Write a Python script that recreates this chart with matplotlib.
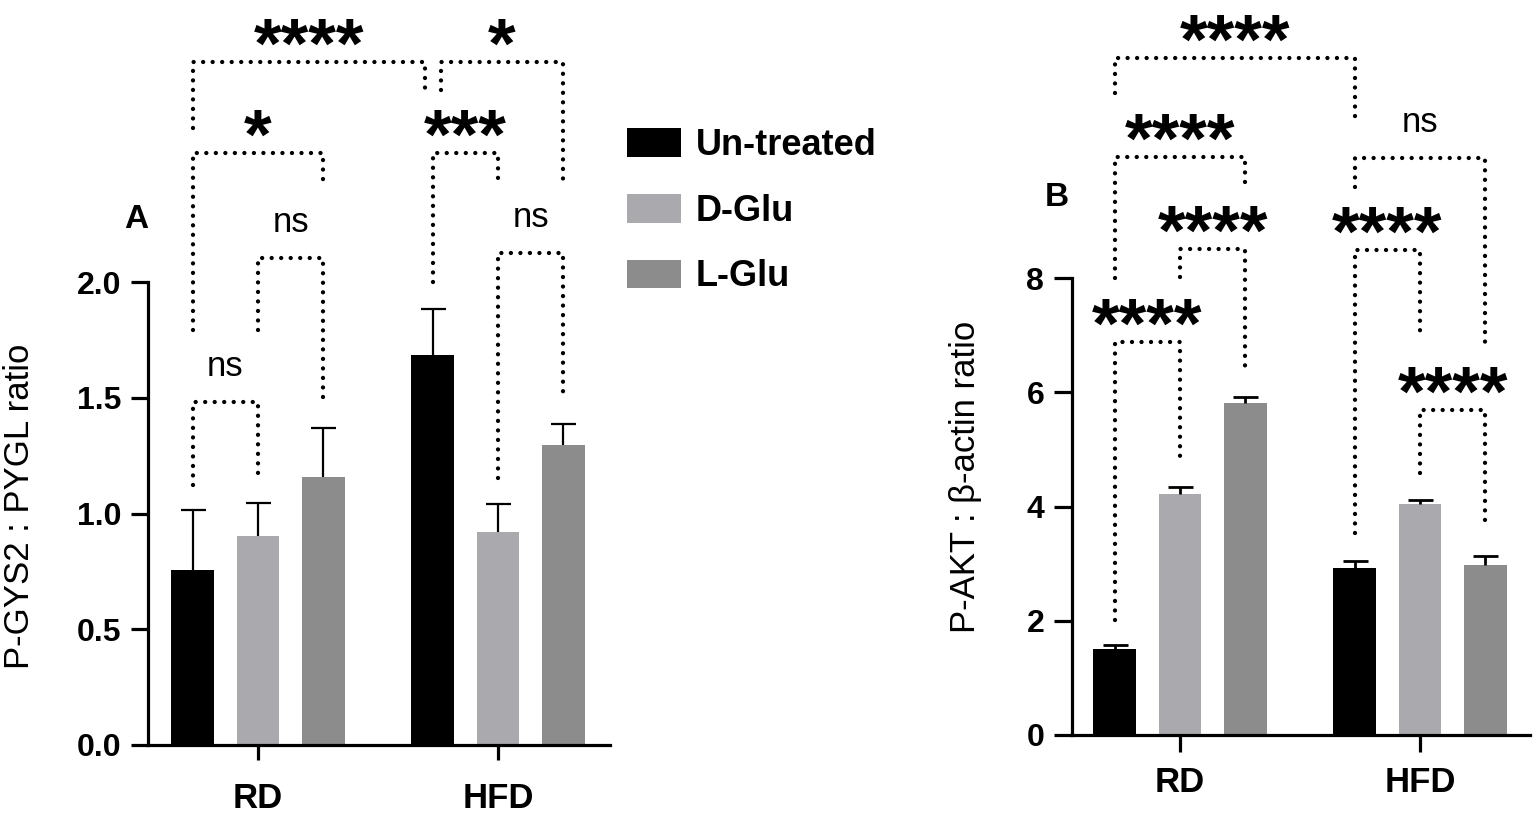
import numpy as np
import matplotlib.pyplot as plt

plt.rcParams['font.family'] = ['Liberation Sans', 'DejaVu Sans']

groups = ['RD', 'HFD']
treatments = ['Un-treated', 'D-Glu', 'L-Glu']
colors = ['#000000', '#aaaaae', '#8c8c8c']

# Panel A: P-GYS2 : PYGL ratio, one row per treatment, one column per group
gys_mean = [[0.756, 1.685], [0.904, 0.921], [1.158, 1.296]]
gys_sem = [[0.26, 0.20], [0.14, 0.12], [0.21, 0.09]]

# Panel B: P-AKT : beta-actin ratio
akt_mean = [[1.50, 2.92], [4.22, 4.05], [5.81, 2.98]]
akt_sem = [[0.07, 0.13], [0.12, 0.07], [0.11, 0.15]]

# significance brackets: ends as (group, treatment), bracket top, leg ends, label
gys_pairs = [((0, 0), (0, 1)), ((0, 1), (0, 2)), ((0, 0), (0, 2)), ((0, 0), (1, 0)),
             ((1, 0), (1, 2)), ((1, 0), (1, 1)), ((1, 1), (1, 2))]
gys_tops = [1.482, 2.104, 2.557, 2.950, 2.950, 2.557, 2.125]
gys_left_ends = [1.123, 1.793, 1.793, 2.665, 2.829, 2.000, 1.153]
gys_right_ends = [1.166, 1.482, 2.432, 2.829, 2.432, 2.432, 1.503]
gys_labels = ['ns', 'ns', '*', '****', '*', '***', 'ns']

akt_pairs = [((0, 0), (0, 1)), ((0, 1), (0, 2)), ((0, 0), (0, 2)), ((0, 0), (1, 0)),
             ((1, 0), (1, 2)), ((1, 0), (1, 1)), ((1, 1), (1, 2))]
akt_tops = [6.88, 8.51, 10.12, 11.86, 10.11, 8.49, 5.69]
akt_left_ends = [2.01, 8.02, 8.00, 11.24, 9.60, 3.54, 4.59]
akt_right_ends = [4.87, 6.44, 9.67, 10.68, 6.88, 6.95, 3.63]
akt_labels = ['****', '****', '****', '****', 'ns', '****', '****']

offset = 0.272
width = 0.178


def draw_panel(ax, means, sems, pairs, tops, lefts, rights, labels, nudges, elw):
    for t in range(3):
        xs = np.arange(len(groups)) + (t - 1) * offset
        ax.bar(xs, means[t], width, color=colors[t], label=treatments[t], zorder=2)
        eb = ax.errorbar(xs, means[t], yerr=[np.zeros(len(groups)), sems[t]], fmt='none',
                         ecolor='black', elinewidth=elw, capsize=9, capthick=elw, zorder=3)
        eb[1][0].set_visible(False)  # no lower cap
    for (a, b), top, l, r, lab, (n1, n2) in zip(pairs, tops, lefts, rights, labels, nudges):
        x1 = a[0] + (a[1] - 1) * offset + n1
        x2 = b[0] + (b[1] - 1) * offset + n2
        ax.plot([x1, x1, x2, x2], [l, top, top, r], color='black', lw=3.1,
                ls=(0, (0.01, 2.2)), dash_capstyle='round', clip_on=False, zorder=4)
        if lab == 'ns':
            fs, k, rise, fw = 25, 0.26, 25, 'normal'
        else:
            fs, k, rise, fw = 51, 0.52, 22.3, 'bold'
        ax.annotate(lab, xy=((x1 + x2) / 2, top), xytext=(0, rise - k * fs),
                    textcoords='offset points', ha='center', va='baseline',
                    fontsize=fs, fontweight=fw, annotation_clip=False)
    ax.spines[['top', 'right']].set_visible(False)
    ax.spines[['left', 'bottom']].set_linewidth(2.3)
    ax.set_xticks(range(len(groups)))
    ax.set_xticklabels(groups)
    ax.patch.set_alpha(0)


fig = plt.figure(figsize=(15.35, 8.18), dpi=100)
W, H = 1535, 818

axA = fig.add_axes([148 / W, (H - 745) / H, (610 - 148) / W, 745 / H])
draw_panel(axA, gys_mean, gys_sem, gys_pairs, gys_tops, gys_left_ends, gys_right_ends,
           gys_labels, [(0, 0), (0, 0), (0, 0), (0, -0.03), (0.033, 0), (0, 0), (0, 0)], 1.6)
axA.set_xlim(-0.458, 1.467)
axA.set_ylim(0, 745 / 231.5)
axA.spines['left'].set_bounds(0, 2)
axA.set_yticks(np.arange(0, 2.01, 0.5))
axA.set_yticklabels([f'{v:.1f}' for v in np.arange(0, 2.01, 0.5)])
axA.tick_params(axis='y', length=12, width=2.3, labelsize=23, pad=7)
axA.tick_params(axis='x', length=11, width=2.3, labelsize=25, pad=16)

axB = fig.add_axes([1072 / W, (H - 735) / H, (1530 - 1072) / W, 735 / H])
draw_panel(axB, akt_mean, akt_sem, akt_pairs, akt_tops, akt_left_ends, akt_right_ends,
           akt_labels, [(0, 0)] * 7, 2.0)
axB.set_xlim(-0.45, 1.458)
axB.set_ylim(0, 735 / 57.1)
axB.spines['left'].set_bounds(0, 8)
axB.set_yticks([0, 2, 4, 6, 8])
axB.tick_params(axis='y', length=13, width=2.3, labelsize=23, pad=7)
axB.tick_params(axis='x', length=12, width=2.3, labelsize=25, pad=10)

for ax in (axA, axB):
    for lab in ax.get_xticklabels() + ax.get_yticklabels():
        lab.set_fontweight('bold')

fig.text(20 / W, 1 - 506 / H, 'P-GYS2 : PYGL ratio', rotation=90, ha='center', va='center',
         fontsize=25)
fig.text(966 / W, 1 - 477 / H, 'P-AKT : β-actin ratio', rotation=90, ha='center', va='center',
         fontsize=25)
fig.text(136 / W, 1 - 220 / H, 'A', ha='center', va='center', fontsize=24, fontweight='bold')
fig.text(1057 / W, 1 - 197 / H, 'B', ha='center', va='center', fontsize=24, fontweight='bold')

handles, labels = axA.get_legend_handles_labels()
fig.legend(handles, labels, loc='upper left', bbox_to_anchor=(609 / W, 1 - 110 / H),
           frameon=False, borderpad=0, handlelength=1.5, handleheight=0.85,
           handletextpad=0.4, labelspacing=0.85, prop={'weight': 'bold', 'size': 26})

fig.savefig('out.png', dpi=100)
